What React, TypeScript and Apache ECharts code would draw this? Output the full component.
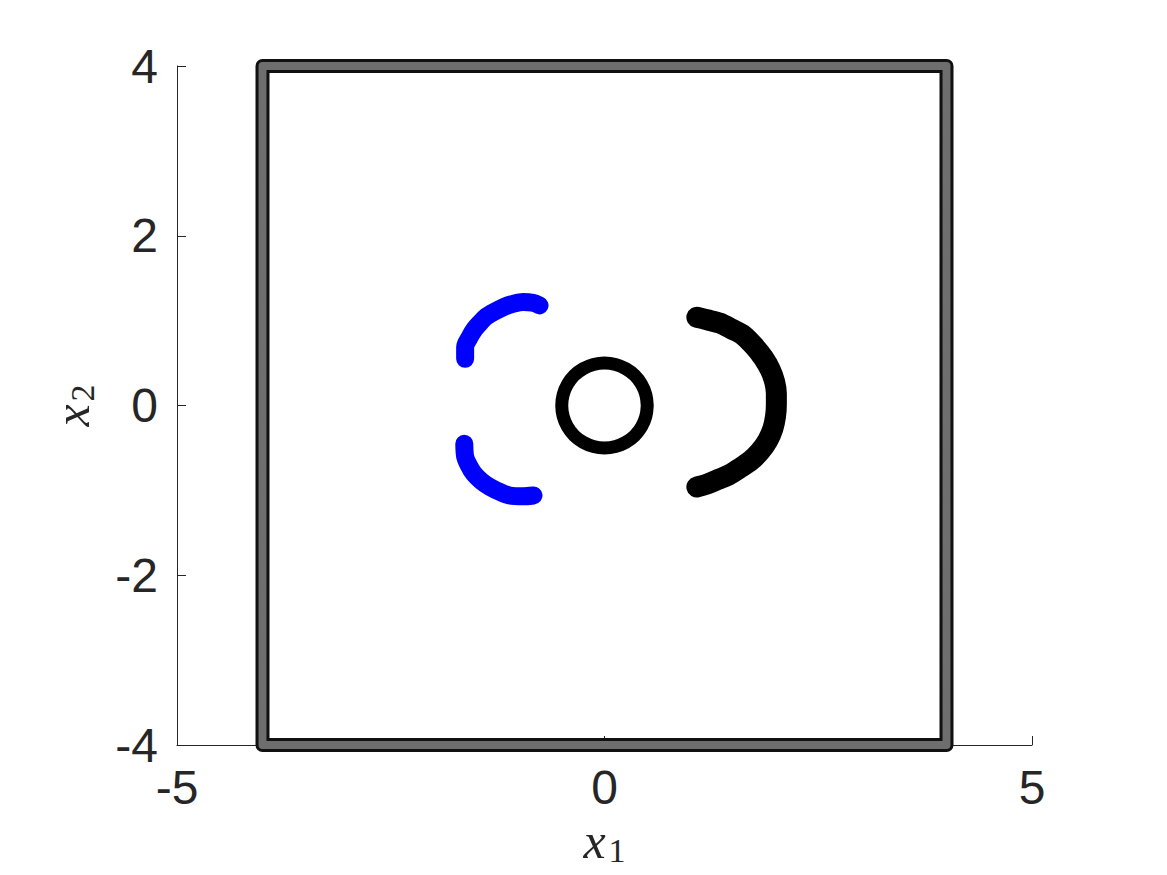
import React, { useEffect, useRef } from "react";
import * as echarts from "echarts";

const xTicks = [-5, 0, 5];
const yTicks = [-4, -2, 0, 2, 4];

const boundary: [number, number][] = [
  [-4, -4], [4, -4], [4, 4], [-4, 4], [-4, -4],
];

const innerRing: [number, number][] = [
  [0.5, 0], [0.483, 0.129], [0.433, 0.25], [0.354, 0.354], [0.25, 0.433], [0.129, 0.483],
  [0, 0.5], [-0.129, 0.483], [-0.25, 0.433], [-0.354, 0.354], [-0.433, 0.25], [-0.483, 0.129],
  [-0.5, 0], [-0.483, -0.129], [-0.433, -0.25], [-0.354, -0.354], [-0.25, -0.433], [-0.129, -0.483],
  [0, -0.5], [0.129, -0.483], [0.25, -0.433], [0.354, -0.354], [0.433, -0.25], [0.483, -0.129],
  [0.5, 0],
];

const blueUpper: [number, number][] = [
  [-1.63, 0.55], [-1.63, 0.69], [-1.58, 0.8], [-1.52, 0.9], [-1.45, 0.98], [-1.38, 1.05],
  [-1.28, 1.11], [-1.18, 1.16], [-1.06, 1.2], [-0.95, 1.22], [-0.84, 1.21], [-0.76, 1.18],
];

const blueLower: [number, number][] = [
  [-1.64, -0.45], [-1.63, -0.6], [-1.59, -0.7], [-1.53, -0.8], [-1.44, -0.89], [-1.34, -0.96],
  [-1.22, -1.02], [-1.11, -1.06], [-0.96, -1.07], [-0.83, -1.06],
];

const blackArc: [number, number][] = [
  [1.08, 1.04], [1.2, 1.01], [1.35, 0.97], [1.49, 0.9], [1.62, 0.83], [1.75, 0.7], [1.86, 0.56],
  [1.94, 0.42], [1.99, 0.28], [2.01, 0.14], [2.01, 0.01], [2.0, -0.13], [1.97, -0.27],
  [1.91, -0.41], [1.82, -0.54], [1.71, -0.65], [1.58, -0.74], [1.45, -0.82], [1.31, -0.88],
  [1.19, -0.93], [1.08, -0.96],
];

const tickFont = "'Liberation Sans', Arial, Helvetica, sans-serif";
const mathFont = "'Liberation Serif', 'DejaVu Serif', serif";

export default function App() {
  const ref = useRef<HTMLDivElement>(null);
  useEffect(() => {
    if (!ref.current) return;
    const chart = echarts.init(ref.current, null, { renderer: "svg" });
    const axisLabel = { color: "#262626", fontSize: 48, fontFamily: tickFont };
    const nameRich = {
      v: { fontFamily: mathFont, fontStyle: "italic", fontSize: 50, color: "#262626" },
      s: { fontFamily: mathFont, fontSize: 34, color: "#262626", padding: [20, 0, 0, 3] },
    };
    const line = (data: [number, number][], color: string, width: number, cap: string, extra: any = {}, smooth: any = false) => ({
      type: "line",
      data,
      smooth,
      symbol: "none",
      clip: false,
      lineStyle: { color, width, cap, join: "round", ...extra },
      z: 3,
    });
    chart.setOption({
      animation: false,
      backgroundColor: "#ffffff",
      grid: { left: 177, top: 66, width: 855, height: 679, containLabel: false, outerBoundsMode: "none" },
      xAxis: {
        type: "value",
        min: -5,
        max: 5,
        interval: 5,
        axisLine: { show: true, onZero: false, lineStyle: { color: "#262626", width: 1 } },
        axisTick: { show: true, inside: true, length: 9, lineStyle: { color: "#262626" } },
        splitLine: { show: false },
        axisLabel: { ...axisLabel, margin: 18, formatter: (v: number) => (xTicks.includes(v) ? String(v) : "") },
        name: "{v|x}{s|1}",
        nameLocation: "middle",
        nameGap: 62,
        nameTextStyle: { rich: nameRich },
      },
      yAxis: {
        type: "value",
        min: -4,
        max: 4,
        interval: 2,
        axisLine: { show: true, onZero: false, lineStyle: { color: "#262626", width: 1 } },
        axisTick: { show: true, inside: true, length: 9, lineStyle: { color: "#262626" } },
        splitLine: { show: false },
        axisLabel: { ...axisLabel, margin: 19, formatter: (v: number) => (yTicks.includes(v) ? String(v) : "") },
        name: "{v|x}{s|2}",
        nameLocation: "middle",
        nameGap: 78,
        nameTextStyle: { rich: nameRich },
      },
      series: [
        line(boundary, "#111111", 14, "round"),
        line(boundary, "#6e6e6e", 8, "round", { type: [1.5, 1.5] }),
        line(innerRing, "#000000", 13, "round", {}, 0.4),
        line(blueUpper, "#0000ff", 18, "round", {}, 0.3),
        line(blueLower, "#0000ff", 18, "round", {}, 0.3),
        line(blackArc, "#000000", 21, "round", {}, 0.3),
      ],
    });
    return () => chart.dispose();
  }, []);
  return (
    <div
      ref={ref}
      style={{ position: "fixed", left: 0, top: 0, width: 1167, height: 875, background: "#fff" }}
    />
  );
}
